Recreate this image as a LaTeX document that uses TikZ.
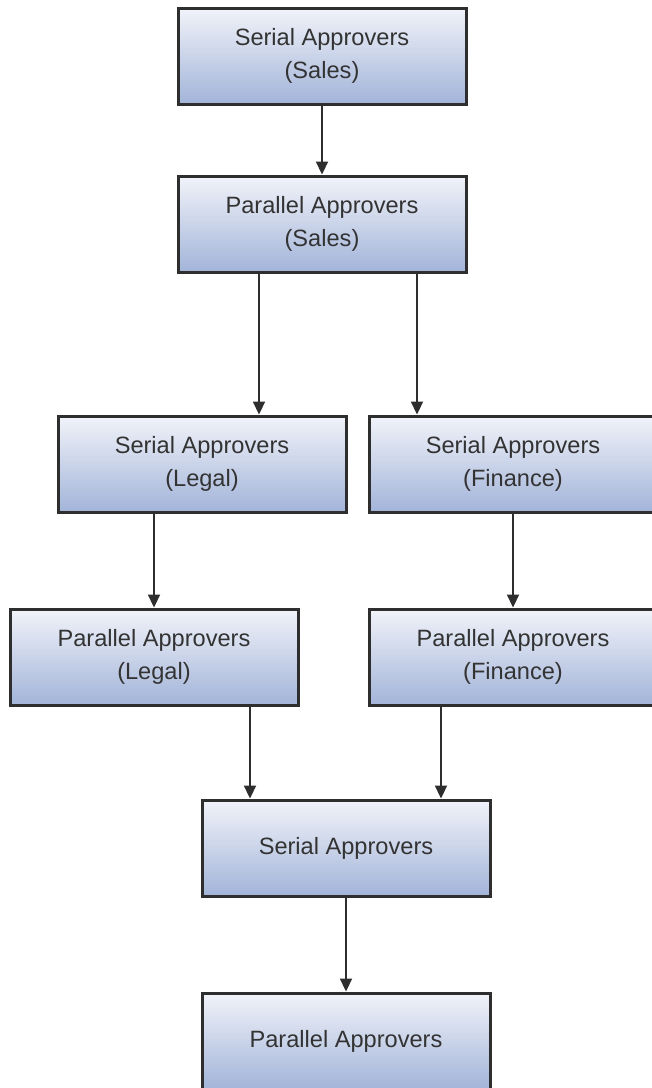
\documentclass[tikz,border=0pt]{standalone}
\usepackage{fontspec}
\setmainfont{Liberation Sans}
\usepackage{xcolor}
\usetikzlibrary{arrows.meta}
\usetikzlibrary{shadows}

\definecolor{boxtop}{HTML}{F1F3F9}
\definecolor{boxbottom}{HTML}{A2B4D9}
\definecolor{boxline}{HTML}{2E2E2E}

\begin{document}
\begin{tikzpicture}[x=0.5pt,y=-0.5pt,
    approver/.style={draw=boxline,line width=1.5pt,top color=boxtop,bottom color=boxbottom,
      minimum width=144pt,minimum height=48pt,align=center,text=black!80,
      font=\fontsize{11.8}{16.5}\selectfont,
      drop shadow={opacity=0.3,shadow xshift=1.2pt,shadow yshift=-1.2pt}},
    flow/.style={line width=1.1pt,draw=boxline,-{Triangle[length=6.5pt,width=6pt]}}]
    \clip (0,0) rectangle (652,1088);
    \node[approver] (sersales) at (322,56) {Serial Approvers\\(Sales)};
    \node[approver] (parsales) at (322,224) {Parallel Approvers\\(Sales)};
    \node[approver] (serlegal) at (202,464) {Serial Approvers\\(Legal)};
    \node[approver] (serfin) at (513,464) {Serial Approvers\\(Finance)};
    \node[approver] (parlegal) at (154,657) {Parallel Approvers\\(Legal)};
    \node[approver] (parfin) at (513,657) {Parallel Approvers\\(Finance)};
    \node[approver] (serall) at (346,848) {Serial Approvers};
    \node[approver] (parall) at (346,1041) {Parallel Approvers};
    \draw[flow] (sersales) -- (parsales);
    \draw[flow] ([xshift=-31.5pt]parsales.south) -- ([xshift=28.5pt]serlegal.north);
    \draw[flow] ([xshift=47.5pt]parsales.south) -- ([xshift=-48pt]serfin.north);
    \draw[flow] ([xshift=-24pt]serlegal.south) -- (parlegal);
    \draw[flow] (serfin) -- (parfin);
    \draw[flow] ([xshift=48pt]parlegal.south) -- ([xshift=-48pt]serall.north);
    \draw[flow] ([xshift=-36pt]parfin.south) -- ([xshift=47.5pt]serall.north);
    \draw[flow] (serall) -- (parall);
\end{tikzpicture}
\end{document}
